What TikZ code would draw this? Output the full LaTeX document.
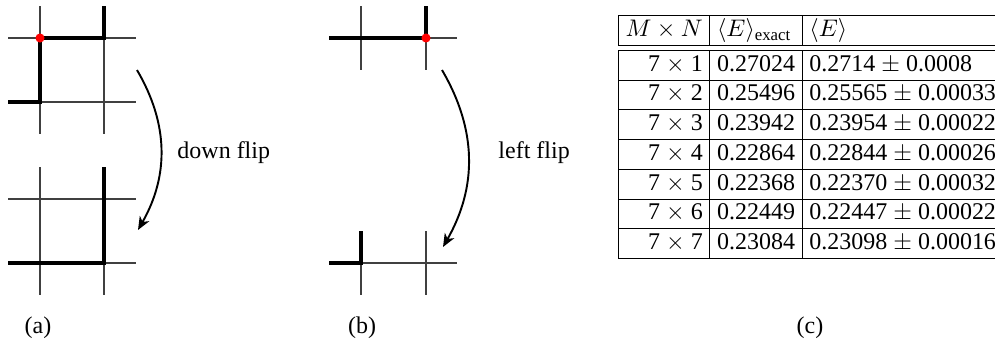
\documentclass[tikz,border=0pt]{standalone}
\usepackage{fontspec}
\setmainfont{Liberation Serif}
\usetikzlibrary{arrows.meta, positioning}

\begin{document}
\begin{tikzpicture}[
    x=0.417pt, y=-0.417pt,
    gridline/.style={draw=black!75, line width=0.45pt},
    bondline/.style={draw=black, line width=1.7pt},
    flip/.style={-{Stealth[length=5.5pt, width=4.5pt, inset=1.6pt]}, line width=0.8pt, bend left=30},
    site/.style={circle, fill=red, inner sep=0pt, minimum size=3.8pt},
    label/.style={inner sep=0pt}
]
    \useasboundingbox (0,0) rectangle (995,341);
    \clip (0,0) rectangle (995,341);

    % (a) before the flip
    \draw[gridline] (8,38) -- (136,38);
    \draw[gridline] (8,102) -- (136,102);
    \draw[gridline] (40,6) -- (40,134);
    \draw[gridline] (104,6) -- (104,134);
    \draw[bondline] (104,6) -- (104,38) -- (40,38) -- (40,102) -- (8,102);
    \node[site] (sa) at (40,38) {};

    % (a) after the flip
    \draw[gridline] (8,199) -- (136,199);
    \draw[gridline] (8,263) -- (136,263);
    \draw[gridline] (40,167) -- (40,295);
    \draw[gridline] (104,167) -- (104,295);
    \draw[bondline] (104,167) -- (104,263) -- (8,263);

    \coordinate (fa1) at (137,70);
    \coordinate (fa2) at (138,230);
    \draw[flip] (fa1) to (fa2);
    \node[label, anchor=west] (ta) at (177,153) {down flip};

    % (b) before the flip
    \draw[gridline] (329,38) -- (457,38);
    \draw[gridline] (361,6) -- (361,70);
    \draw[gridline] (426,6) -- (426,70);
    \draw[bondline] (329,38) -- (426,38) -- (426,6);
    \node[site] (sb) at (426,38) {};

    % (b) after the flip
    \draw[gridline] (329,263) -- (457,263);
    \draw[gridline] (361,231) -- (361,295);
    \draw[gridline] (426,231) -- (426,295);
    \draw[bondline] (329,263) -- (361,263) -- (361,231);

    \coordinate (fb1) at (442,70);
    \coordinate (fb2) at (443,247);
    \draw[flip] (fb1) to (fb2);
    \node[label, anchor=west] (tb) at (498,153) {left flip};

    % (c) energies
    \node[anchor=north west, inner sep=0pt] (tbl) at (618,15) {%
        \setlength{\tabcolsep}{3pt}%
        \begin{tabular}{|r|l|l|}
            \hline
            $M\times N$ & $\langle E\rangle_{\mathrm{exact}}$ & $\langle E\rangle$\\
            \hline\hline
            7 $\times$ 1 & 0.27024 & 0.2714 $\pm$ 0.0008\\ \hline
            7 $\times$ 2 & 0.25496 & 0.25565 $\pm$ 0.00033\\ \hline
            7 $\times$ 3 & 0.23942 & 0.23954 $\pm$ 0.00022\\ \hline
            7 $\times$ 4 & 0.22864 & 0.22844 $\pm$ 0.00026\\ \hline
            7 $\times$ 5 & 0.22368 & 0.22370 $\pm$ 0.00032\\ \hline
            7 $\times$ 6 & 0.22449 & 0.22447 $\pm$ 0.00022\\ \hline
            7 $\times$ 7 & 0.23084 & 0.23098 $\pm$ 0.00016\\ \hline
        \end{tabular}};

    \node[label] (ca) at (38,328) {(a)};
    \node[label] (cb) at (362,328) {(b)};
    \node[label] (cc) at (810,328) {(c)};
\end{tikzpicture}
\end{document}
